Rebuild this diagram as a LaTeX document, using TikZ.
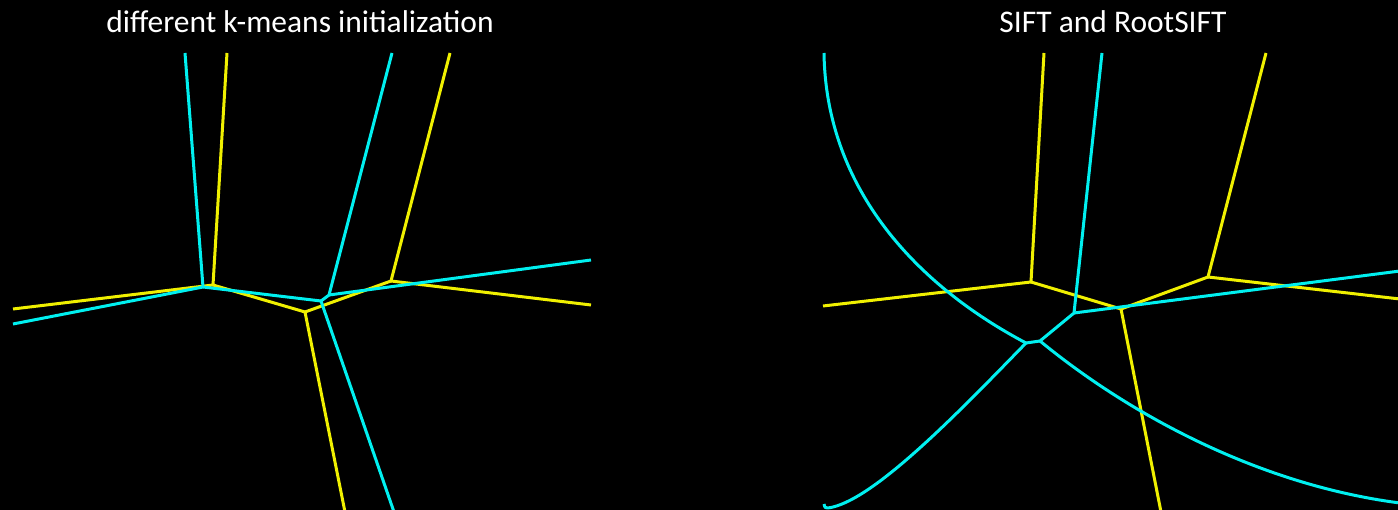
\documentclass[tikz,border=0pt]{standalone}
\usepackage{fontspec}
\setmainfont{Carlito}
\definecolor{cy}{RGB}{0,240,240}
\definecolor{yl}{RGB}{240,240,0}
\begin{document}
\begin{tikzpicture}[x=1pt,y=-1pt,
  cline/.style={draw=cy,line width=3pt,line join=round},
  yline/.style={draw=yl,line width=3pt,line join=round},
  title/.style={text=white,font=\fontsize{31.5}{36}\selectfont,anchor=base,inner sep=0pt}]
\fill[black] (0,0) rectangle (1398,510);
\useasboundingbox (0,0) rectangle (1398,510);
% titles
\node[title] (t1) at (300,33) {different k-means initialization};
\node[title] (t2) at (1113,33) {SIFT and RootSIFT};
% ---------- left panel ----------
\coordinate (lc1) at (203,287);
\coordinate (lc2) at (321,301);
\coordinate (lc3) at (329,295);
\coordinate (lcTop1) at (185,53);
\coordinate (lcTop2) at (392,53);
\coordinate (lcL) at (13,324);
\coordinate (lcR) at (591,260);
\coordinate (lcB) at (394,512);
\coordinate (ly1) at (213,285);
\coordinate (ly2) at (305,312);
\coordinate (ly3) at (391,281);
\coordinate (lyTop1) at (227,53);
\coordinate (lyTop2) at (450,53);
\coordinate (lyL) at (13,309);
\coordinate (lyR) at (591,305);
\coordinate (lyB) at (345,512);
\draw[yline] (lyTop1) -- (ly1) -- (lyL);
\draw[yline] (ly1) -- (ly2) -- (lyB);
\draw[yline] (ly2) -- (ly3) -- (lyTop2);
\draw[yline] (ly3) -- (lyR);
\draw[cline] (lcTop1) -- (lc1) -- (lcL);
\draw[cline] (lc1) -- (lc2) -- (lcB);
\draw[cline] (lc2) -- (lc3) -- (lcTop2);
\draw[cline] (lc3) -- (lcR);
% ---------- right panel ----------
\coordinate (ry1) at (1031,282);
\coordinate (ry2) at (1121,309);
\coordinate (ry3) at (1208,277);
\coordinate (ryTop1) at (1044,53);
\coordinate (ryTop2) at (1266,53);
\coordinate (ryL) at (823,306);
\coordinate (ryR) at (1400,299);
\coordinate (ryB) at (1161,512);
\coordinate (rc1) at (1026,343);
\coordinate (rc2) at (1040,341);
\coordinate (rc3) at (1074,313);
\coordinate (rcTop) at (1102,53);
\coordinate (rcR) at (1400,271);
\coordinate (rcArcTop) at (824,53);
\coordinate (rcArcBL) at (828,508);
\coordinate (rcHook) at (824,504);
\coordinate (rcArcR) at (1400,503);
\draw[yline] (ryTop1) -- (ry1) -- (ryL);
\draw[yline] (ry1) -- (ry2) -- (ryB);
\draw[yline] (ry2) -- (ry3) -- (ryTop2);
\draw[yline] (ry3) -- (ryR);
\draw[cline] (rc1) -- (rc2) -- (rc3) -- (rcTop);
\draw[cline] (rc3) -- (rcR);
\draw[cline] (rcArcTop) .. controls (826,190) and (918,286) .. (rc1);
\draw[cline] (rc1) .. controls (956,415) and (872,502) .. (rcArcBL)
  .. controls (825,508) .. (rcHook);
\draw[cline] (rc2) .. controls (1130,415) and (1260,485) .. (rcArcR);
\end{tikzpicture}
\end{document}
